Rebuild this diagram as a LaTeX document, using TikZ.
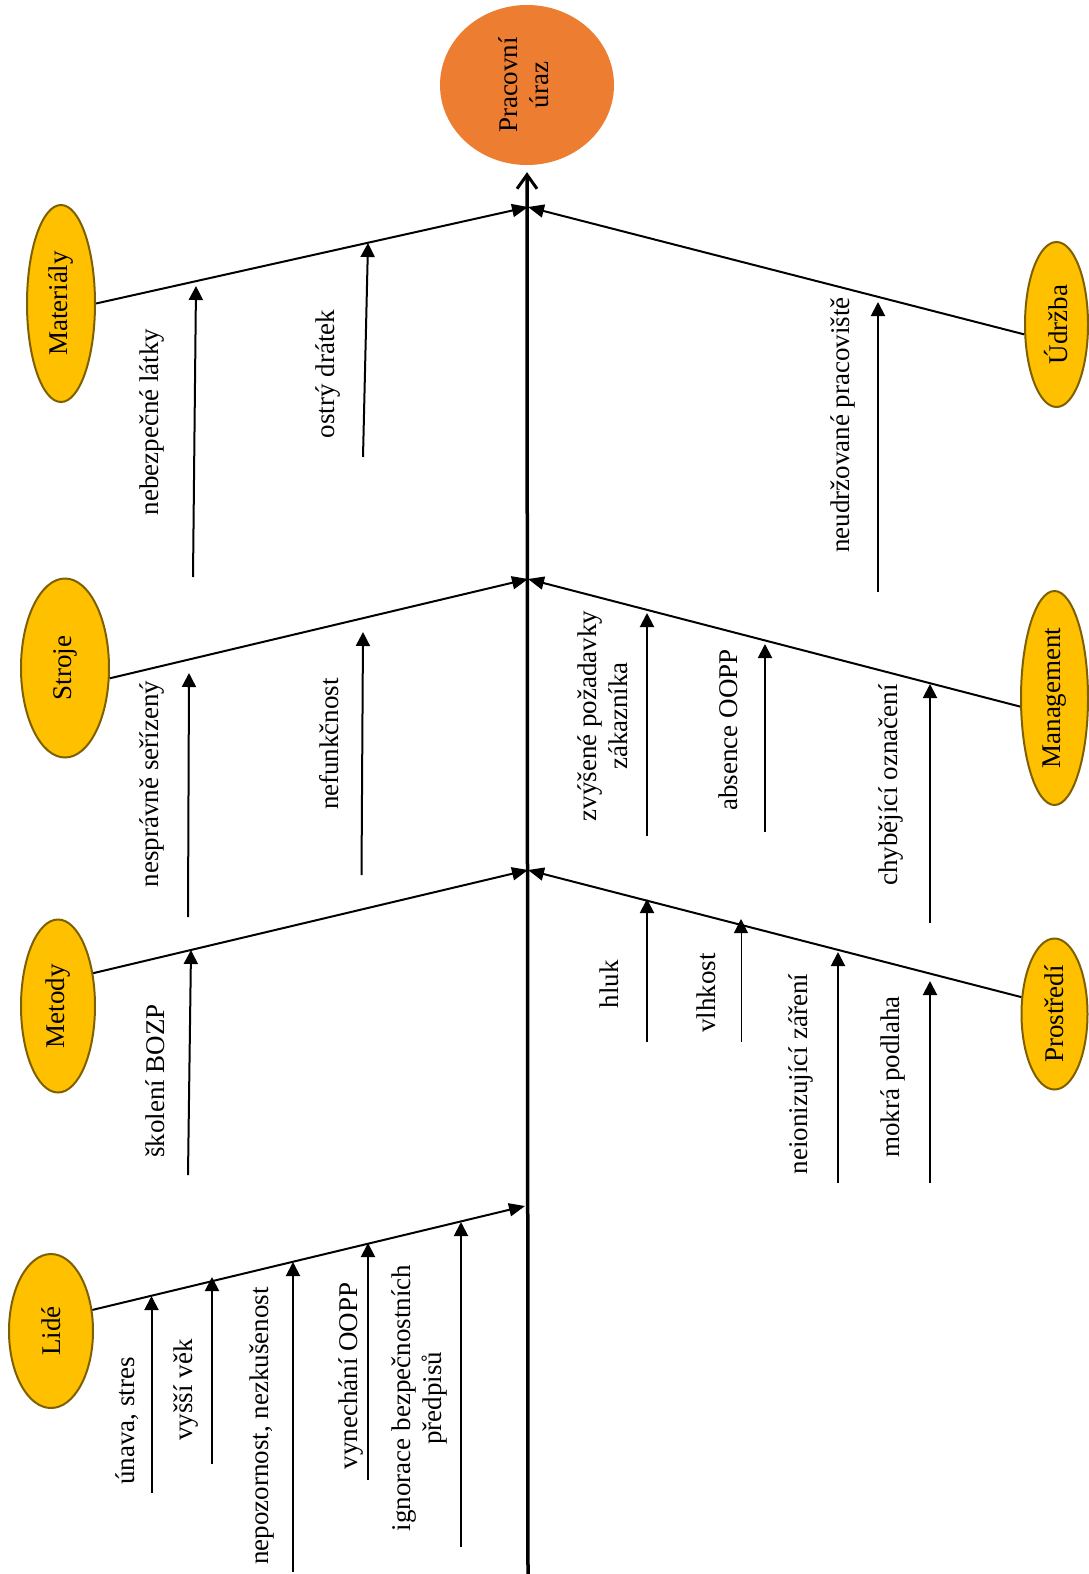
\documentclass[tikz,border=0pt]{standalone}
\usepackage{fontspec}
\setmainfont{Liberation Serif}
\usetikzlibrary{shapes.geometric,arrows.meta}
\definecolor{catfill}{HTML}{FFC000}
\definecolor{catborder}{HTML}{7F6000}
\definecolor{goalfill}{HTML}{ED7D31}
\tikzset{
  catnode/.style={ellipse, draw=catborder, line width=2pt, fill=catfill, inner sep=0pt},
  goalnode/.style={ellipse, fill=goalfill, inner sep=0pt},
  causetext/.style={rotate=90, inner sep=0pt, align=center},
  spineline/.style={line width=3.5pt, -{Straight Barb[length=14pt,width=20pt,line width=3pt]}},
  branchline/.style={line width=2pt, -{Triangle[length=16pt,width=13pt]}},
  causearrow/.style={line width=2pt, -{Triangle[length=14pt,width=14pt]}},
  thincause/.style={line width=1pt, -{Triangle[length=14pt,width=14pt]}}
}
\begin{document}
\begin{tikzpicture}[x=1pt, y=-1pt, font=\fontsize{27}{31}\selectfont]
\useasboundingbox[fill=white] (0,0) rectangle (1088,1574);

% effect
\node[goalnode, minimum width=174pt, minimum height=160pt] (goal) at (527,85)
  {\rotatebox{90}{\begin{tabular}{@{}c@{}}Pracovní\\úraz\end{tabular}}};

% categories
\node[catnode, minimum width=68pt, minimum height=197pt] (mat) at (61,303.5) {\rotatebox{90}{Materiály}};
\node[catnode, minimum width=88pt, minimum height=179pt] (str) at (65,668) {\rotatebox{90}{Stroje}};
\node[catnode, minimum width=74pt, minimum height=173pt] (met) at (58,1006) {\rotatebox{90}{Metody}};
\node[catnode, minimum width=84pt, minimum height=154pt] (lid) at (51,1331) {\rotatebox{90}{Lidé}};
\node[catnode, minimum width=63pt, minimum height=165pt] (udr) at (1056.5,324.5) {\rotatebox{90}{Údržba}};
\node[catnode, minimum width=67pt, minimum height=214pt] (mgmt) at (1054.5,698) {\rotatebox{90}{Management}};
\node[catnode, minimum width=66pt, minimum height=151pt] (pro) at (1054.5,1014) {\rotatebox{90}{Prostředí}};

% spine
\coordinate (base) at (528,1574);
\draw[spineline] (base) -- ([yshift=-7pt]goal.south);

% junctions on the spine
\coordinate (jA) at (528,207);
\coordinate (jB) at (528,579);
\coordinate (jC) at (528,870);
\coordinate (jD) at (525,1206);

% main branches
\draw[branchline] (mat.east) -- (jA);
\draw[branchline] (udr.197) -- (jA);
\draw[branchline] (str.-13) -- (jB);
\draw[branchline] (mgmt.194) -- (jB);
\draw[branchline] (met.43) -- (jC);
\draw[branchline] (pro.153) -- (jC);
\draw[branchline] (lid.27) -- (jD);

% Materiály
\coordinate (m1s) at (193,577); \coordinate (m1e) at (196,286);
\coordinate (m2s) at (363,457); \coordinate (m2e) at (368,243);
\draw[causearrow] (m1s) -- (m1e);
\draw[causearrow] (m2s) -- (m2e);
\node[causetext] (t-m1) at (152,422) {nebezpečné látky};
\node[causetext] (t-m2) at (328,374) {ostrý drátek};

% Stroje
\coordinate (s1s) at (188,917); \coordinate (s1e) at (189,673);
\coordinate (s2s) at (361.5,875); \coordinate (s2e) at (363,632);
\draw[causearrow] (s1s) -- (s1e);
\draw[causearrow] (s2s) -- (s2e);
\node[causetext] (t-s1) at (152,784) {nesprávně seřízený};
\node[causetext] (t-s2) at (329,744) {nefunkčnost};

% Metody
\coordinate (e1s) at (188,1175); \coordinate (e1e) at (191,950);
\draw[causearrow] (e1s) -- (e1e);
\node[causetext] (t-e1) at (155,1081) {školení BOZP};

% Lidé
\coordinate (l1s) at (151.5,1493); \coordinate (l1e) at (151.5,1296);
\coordinate (l2s) at (212,1464); \coordinate (l2e) at (212,1277);
\coordinate (l3s) at (293,1572); \coordinate (l3e) at (293,1262);
\coordinate (l4s) at (368,1480); \coordinate (l4e) at (368,1243);
\coordinate (l5s) at (461,1547); \coordinate (l5e) at (461,1222);
\draw[causearrow] (l1s) -- (l1e);
\draw[causearrow] (l2s) -- (l2e);
\draw[causearrow] (l3s) -- (l3e);
\draw[causearrow] (l4s) -- (l4e);
\draw[causearrow] (l5s) -- (l5e);
\node[causetext] (t-l1) at (127,1421) {únava, stres};
\node[causetext] (t-l2) at (186,1390) {vyšší věk};
\node[causetext] (t-l3) at (262,1426) {nepozornost, nezkušenost};
\node[causetext] (t-l4) at (351,1376) {vynechání OOPP};
\node[causetext] (t-l5) at (419,1398) {ignorace bezpečnostních\\předpisů};

% Údržba
\coordinate (u1s) at (878,592); \coordinate (u1e) at (878,302);
\draw[causearrow] (u1s) -- (u1e);
\node[causetext] (t-u1) at (843,425) {neudržované pracoviště};

% Management
\coordinate (g1s) at (647,836); \coordinate (g1e) at (647,613);
\coordinate (g2s) at (765,832); \coordinate (g2e) at (765,644);
\coordinate (g3s) at (930,923); \coordinate (g3e) at (930,684);
\draw[causearrow] (g1s) -- (g1e);
\draw[causearrow] (g2s) -- (g2e);
\draw[causearrow] (g3s) -- (g3e);
\node[causetext] (t-g1) at (603,716) {zvýšené požadavky\\zákazníka};
\node[causetext] (t-g2) at (728,730) {absence OOPP};
\node[causetext] (t-g3) at (891,785) {chybějící označení};

% Prostředí
\coordinate (p1s) at (647,1042); \coordinate (p1e) at (647,899);
\coordinate (p2s) at (741,1042); \coordinate (p2e) at (741,919);
\coordinate (p3s) at (838,1183); \coordinate (p3e) at (838,952);
\coordinate (p4s) at (930,1183); \coordinate (p4e) at (930,981);
\draw[causearrow] (p1s) -- (p1e);
\draw[thincause] (p2s) -- (p2e);
\draw[causearrow] (p3s) -- (p3e);
\draw[causearrow] (p4s) -- (p4e);
\node[causetext] (t-p1) at (609,984) {hluk};
\node[causetext] (t-p2) at (706,993) {vlhkost};
\node[causetext] (t-p3) at (801,1074) {neionizující záření};
\node[causetext] (t-p4) at (893,1077) {mokrá podlaha};
\end{tikzpicture}
\end{document}
